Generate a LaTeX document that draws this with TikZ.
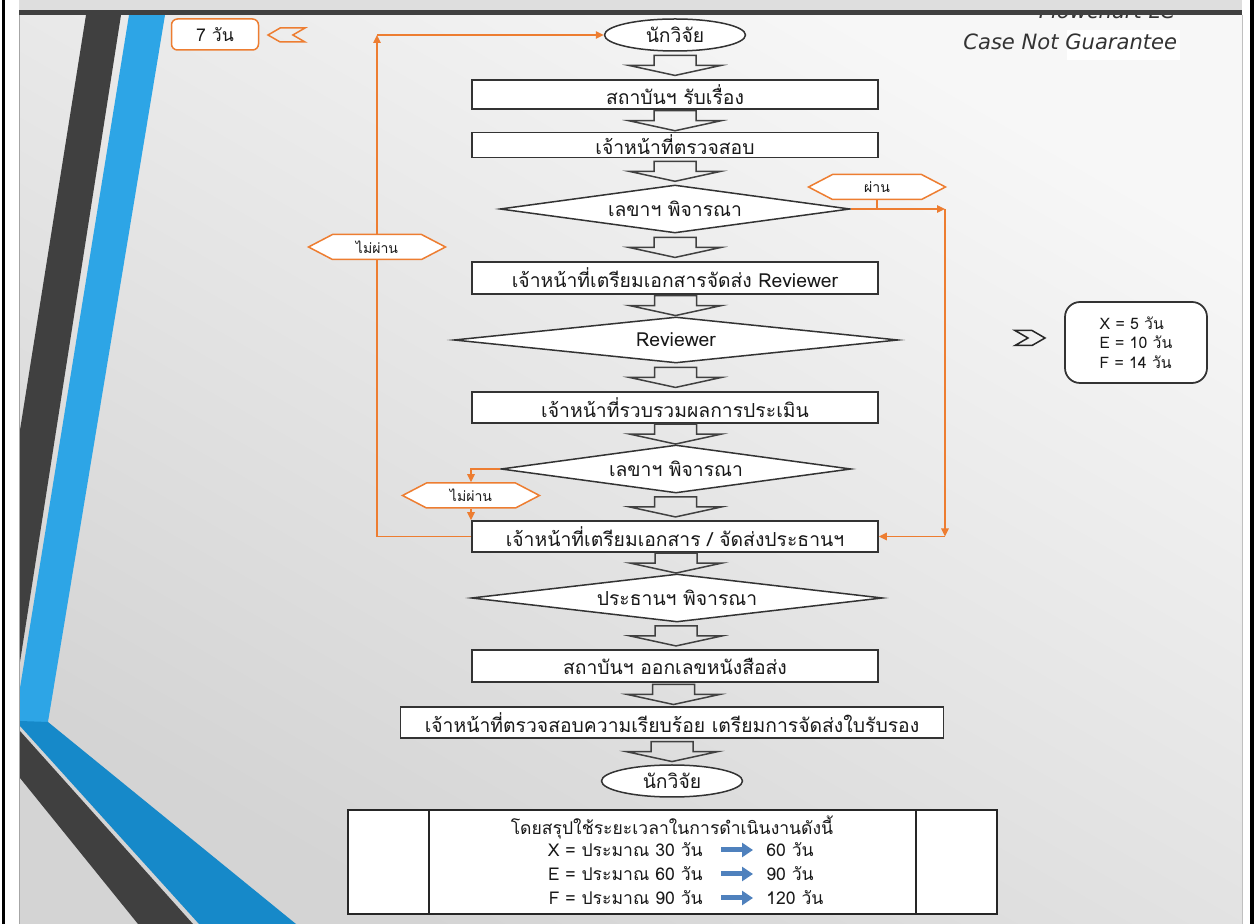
\documentclass[tikz,border=0pt]{standalone}
\usepackage{fontspec}
\usepackage{tikz}
\usetikzlibrary{positioning, shapes.geometric, shapes.symbols, calc, arrows.meta}
\newfontfamily\thaifont[Script=Thai]{Loma}
\newfontfamily\slidefont{DejaVu Sans}
\definecolor{lcOrange}{RGB}{237, 125, 49}
\definecolor{lcBlue}{RGB}{45, 165, 230}
\definecolor{lcDeepBlue}{RGB}{22, 137, 201}
\definecolor{lcDark}{RGB}{64, 64, 64}
\definecolor{lcArrow}{RGB}{79, 129, 189}
\tikzset{
    base/.style={
        font=\thaifont\fontsize{11}{13}\selectfont,
        align=center,
        text=black!90,
        inner sep=0pt
    },
    stepbox/.style={
        base,
        rectangle,
        draw=black!80,
        line width=0.35mm,
        fill=white,
        minimum width=81.2mm,
        minimum height=6.2mm
    },
    decision/.style={
        base,
        diamond,
        aspect=7.3,
        draw=black!80,
        line width=0.3mm,
        fill=white,
        minimum width=70mm,
        minimum height=9.6mm
    },
    terminal/.style={
        base,
        ellipse,
        draw=black!80,
        line width=0.3mm,
        fill=white,
        minimum width=28.2mm,
        minimum height=6.4mm
    },
    verdict/.style={
        base,
        font=\thaifont\fontsize{8}{10}\selectfont,
        signal,
        signal to=west and east,
        signal pointer angle=55,
        draw=lcOrange,
        line width=0.3mm,
        fill=white,
        minimum width=27.4mm,
        minimum height=5mm
    },
    note/.style={
        base,
        font=\thaifont\fontsize{10}{12}\selectfont,
        rectangle,
        rounded corners=1.2mm,
        draw=lcOrange,
        line width=0.3mm,
        fill=white,
        minimum width=17.4mm,
        minimum height=6.2mm
    },
    notch/.style={
        signal,
        signal pointer angle=60,
        line width=0.3mm,
        minimum width=7.4mm,
        minimum height=2.8mm,
        inner sep=0pt
    },
    quota/.style={
        base,
        font=\thaifont\fontsize{9}{11}\selectfont,
        align=left,
        rectangle,
        rounded corners=3mm,
        draw=black!80,
        line width=0.35mm,
        fill=white,
        minimum width=28.4mm,
        minimum height=16.2mm
    },
    sumtext/.style={
        base,
        font=\thaifont\fontsize{10}{12}\selectfont
    },
    flow/.style={
        -{Triangle[length=1.6mm, width=1.5mm]},
        line width=0.3mm,
        color=lcOrange
    },
    flowline/.style={
        line width=0.3mm,
        color=lcOrange
    },
    blockline/.style={
        draw=black!75,
        line width=0.3mm,
        line join=miter
    },
    downarrow/.pic={
        \draw[blockline] (-21,-10) -- (21,-10) -- (21,0) -- (46,0) -- (0,10) -- (-46,0) -- (-21,0) -- cycle;
    },
    bluearrow/.style={
        -{Triangle[length=2.2mm, width=2.8mm]},
        line width=1mm,
        color=lcArrow
    }
}

\begin{document}
\begin{tikzpicture}[x=0.2mm, y=-0.2mm]
    \useasboundingbox (0,0) rectangle (1258,924);

    % Slide
    \fill[white] (0,0) rectangle (1258,924);
    \shade[top color=black!3, bottom color=black!17, shading angle=-30] (19,15) rectangle (1242,924);

    % Stripes
    \fill[lcDark] (86,15) -- (121,15) -- (20,662) -- (20,430) -- cycle;
    \fill[lcBlue] (129,15) -- (165,15) -- (48,722) -- (20,722) -- (20,688) -- cycle;
    \fill[lcDeepBlue] (20,721) -- (48,722) -- (296,924) -- (199,924) -- (20,726) -- cycle;
    \fill[lcDark] (20,731) -- (193,924) -- (138,924) -- (20,778) -- cycle;
    \draw[black!35, line width=0.3mm] (19.5,15) -- (19.5,924);
    \draw[black!25] (1242,15) -- (1242,924);

    % Title bar
    \node[anchor=base, font=\slidefont\itshape\fontsize{12}{14}\selectfont, text=black!80, inner sep=0pt] (title) at (1107,19) {Flowchart LC};
    \fill[black!13] (19,0) rectangle (1242,10);
    \fill[lcDark] (19,10) rectangle (1242,15);
    \fill[black] (2,0) rectangle (5,924);
    \fill[black] (1250,0) rectangle (1254,924);
    \fill[white] (1067,30) rectangle (1180,60);
    \node[anchor=base west, font=\slidefont\itshape\fontsize{12}{14}\selectfont, text=black!80, inner sep=0pt] (subtitle) at (963,50) {Case Not Guarantee};

    % Flow
    \node[terminal] (start) at (675,35) {นักวิจัย};
    \node[stepbox, minimum height=5.8mm] (receive) at (675,94.5) {สถาบันฯ รับเรื่อง};
    \node[stepbox, minimum height=5mm] (check) at (675,145) {เจ้าหน้าที่ตรวจสอบ};
    \node[decision] (secretary) at (675,209) {เลขาฯ พิจารณา};
    \node[stepbox, minimum height=6.4mm] (prepare) at (675,278) {เจ้าหน้าที่เตรียมเอกสารจัดส่ง Reviewer};
    \node[decision, aspect=9.65, minimum width=88.8mm, minimum height=9.2mm] (review) at (676,340) {Reviewer};
    \node[stepbox] (collect) at (675,407.5) {เจ้าหน้าที่รวบรวมผลการประเมิน};
    \node[decision] (recheck) at (676,469) {เลขาฯ พิจารณา};
    \node[stepbox] (dispatch) at (675,536.5) {เจ้าหน้าที่เตรียมเอกสาร / จัดส่งประธานฯ};
    \node[decision, aspect=8.56, minimum width=82.2mm] (chair) at (677,598) {ประธานฯ พิจารณา};
    \node[stepbox, minimum height=6.4mm] (issue) at (675,666) {สถาบันฯ ออกเลขหนังสือส่ง};
    \node[stepbox, minimum width=108.6mm] (certify) at (672,722.5) {เจ้าหน้าที่ตรวจสอบความเรียบร้อย เตรียมการจัดส่งใบรับรอง};
    \node[terminal] (finish) at (672,781) {นักวิจัย};

    \pic at ($(start.south)!0.5!(receive.north)$) {downarrow};
    \pic at ($(receive.south)!0.5!(check.north)$) {downarrow};
    \pic at ($(check.south)!0.5!(secretary.north)$) {downarrow};
    \pic at ($(secretary.south)!0.5!(prepare.north)$) {downarrow};
    \pic at ($(prepare.south)!0.5!(review.north)$) {downarrow};
    \pic at ($(review.south)!0.5!(collect.north)$) {downarrow};
    \pic at ($(collect.south)!0.5!(recheck.north)$) {downarrow};
    \pic at ($(recheck.south)!0.5!(dispatch.north)$) {downarrow};
    \pic at ($(dispatch.south)!0.5!(chair.north)$) {downarrow};
    \pic at ($(chair.south)!0.5!(issue.north)$) {downarrow};
    \pic at ($(issue.south)!0.5!(certify.north)$) {downarrow};
    \pic at ($(certify.south)!0.5!(finish.north)$) {downarrow};

    % Loops
    \node[note] (days) at (215,34.5) {7 วัน};
    \node[notch, signal to=west, signal from=east, draw=lcOrange] (daysMark) at (286.5,35) {};
    \coordinate (loopTop) at (377,35);
    \draw[flow] (dispatch.west) -| (loopTop);
    \draw[flow] (loopTop) -- (start.west);
    \node[verdict] (fail) at (377,247) {ไม่ผ่าน};

    \node[verdict] (pass) at (877,187) {ผ่าน};
    \coordinate (passTurn) at (945,209);
    \coordinate (passDrop) at (945,536.5);
    \draw[flowline] (pass.south) -- (pass.south |- secretary.east);
    \draw[flow] (secretary.east) -- (passTurn);
    \draw[flow] (passTurn) -- (passDrop);
    \draw[flow] (passDrop) -- (dispatch.east);

    \node[verdict] (refail) at (471,495.5) {ไม่ผ่าน};
    \draw[flow] (recheck.west) -| (refail.north);
    \draw[flow] (refail.south) -- (refail.south |- dispatch.north);

    % Quota
    \node[notch, signal to=east, signal from=west, draw=black!85, minimum width=6mm, minimum height=3mm] (quotaMark) at (1030,338) {};
    \node[quota] (quota) at (1136,342.5) {X = 5 วัน\\E = 10 วัน\\F = 14 วัน};

    % Summary
    \node[rectangle, draw=black!85, line width=0.35mm, fill=white, minimum width=129.8mm, minimum height=20.8mm, inner sep=0pt] (summary) at (672.5,862) {};
    \draw[black!85, line width=0.35mm] ([xshift=16.4mm]summary.north west) -- ([xshift=16.4mm]summary.south west);
    \draw[black!85, line width=0.35mm] ([xshift=-16.4mm]summary.north east) -- ([xshift=-16.4mm]summary.south east);
    \node[sumtext] (sumTitle) at (672,827) {โดยสรุปใช้ระยะเวลาในการดำเนินงานดังนี้};
    \node[sumtext, anchor=east] (sumX) at (703,850) {X = ประมาณ 30 วัน};
    \node[sumtext, anchor=west] (sumXnew) at (766,850) {60 วัน};
    \node[sumtext, anchor=east] (sumE) at (703,874) {E = ประมาณ 60 วัน};
    \node[sumtext, anchor=west] (sumEnew) at (766,874) {90 วัน};
    \node[sumtext, anchor=east] (sumF) at (703,898) {F = ประมาณ 90 วัน};
    \node[sumtext, anchor=west] (sumFnew) at (766,898) {120 วัน};
    \draw[bluearrow] ([xshift=3.6mm]sumX.east) -- ([xshift=-2.6mm]sumXnew.west);
    \draw[bluearrow] ([xshift=3.6mm]sumE.east) -- ([xshift=-2.6mm]sumEnew.west);
    \draw[bluearrow] ([xshift=3.6mm]sumF.east) -- ([xshift=-2.6mm]sumFnew.west);
\end{tikzpicture}
\end{document}
